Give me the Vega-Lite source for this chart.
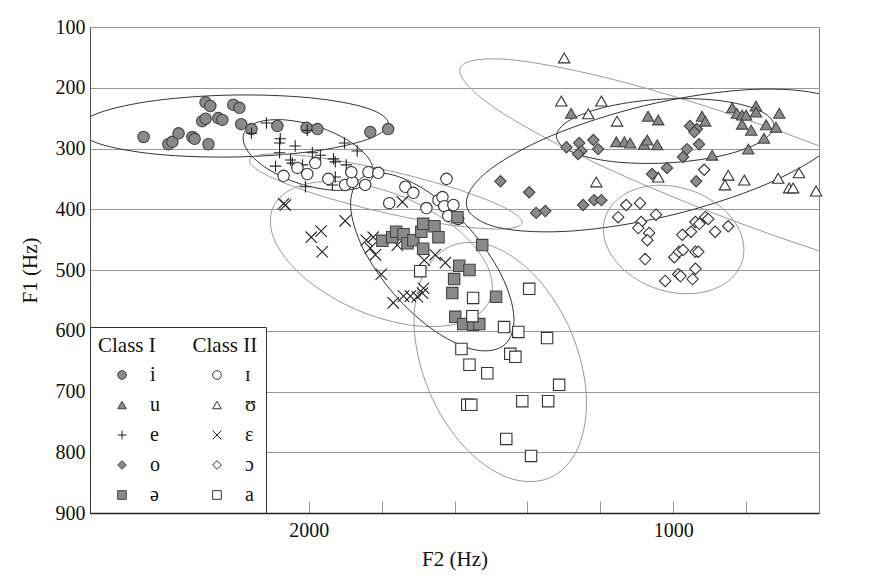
{
  "$schema": "https://vega.github.io/schema/vega-lite/v6.json",
  "width": 729,
  "height": 486,
  "autosize": {"type": "none"},
  "padding": {"left": 90, "top": 27, "right": 76, "bottom": 66},
  "background": "white",
  "config": {
    "view": {"stroke": "#888", "strokeWidth": 1},
    "font": "Liberation Serif",
    "axis": {"labelFont": "Liberation Serif", "titleFont": "Liberation Serif"},
    "legend": {"labelFont": "Liberation Serif", "titleFont": "Liberation Serif"}
  },
  "resolve": {"axis": {"x": "independent"}},
  "datasets": {
    "ell": [
      {"e":"i","c":"I","k":0,"x":1781.5,"y":258.6},{"e":"i","c":"I","k":1,"x":1837.8,"y":284.7},{"e":"i","c":"I","k":2,"x":1992.7,"y":305},{"e":"i","c":"I","k":3,"x":2205,"y":314},{"e":"i","c":"I","k":4,"x":2417.7,"y":309.4},{"e":"i","c":"I","k":5,"x":2573.8,"y":292.3},{"e":"i","c":"I","k":6,"x":2631.5,"y":267.4},{"e":"i","c":"I","k":7,"x":2575.3,"y":241.3},{"e":"i","c":"I","k":8,"x":2420.3,"y":221},{"e":"i","c":"I","k":9,"x":2208,"y":212},{"e":"i","c":"I","k":10,"x":1995.3,"y":216.6},{"e":"i","c":"I","k":11,"x":1839.3,"y":233.7},
      {"e":"e","c":"I","k":0,"x":1823.5,"y":345.3},{"e":"e","c":"I","k":1,"x":1860,"y":364.2},{"e":"e","c":"I","k":2,"x":1934.2,"y":368.6},{"e":"e","c":"I","k":3,"x":2026.3,"y":357.6},{"e":"e","c":"I","k":4,"x":2111.6,"y":334},{"e":"e","c":"I","k":5,"x":2167.2,"y":304.2},{"e":"e","c":"I","k":6,"x":2178.3,"y":276.1},{"e":"e","c":"I","k":7,"x":2141.8,"y":257.2},{"e":"e","c":"I","k":8,"x":2067.6,"y":252.8},{"e":"e","c":"I","k":9,"x":1975.5,"y":263.8},{"e":"e","c":"I","k":10,"x":1890.2,"y":287.4},{"e":"e","c":"I","k":11,"x":1834.6,"y":317.2},
      {"e":"ɪ","c":"II","k":0,"x":1414.4,"y":422.6},{"e":"ɪ","c":"II","k":1,"x":1471,"y":432.6},{"e":"ɪ","c":"II","k":2,"x":1612.6,"y":425.9},{"e":"ɪ","c":"II","k":3,"x":1801.3,"y":404.5},{"e":"ɪ","c":"II","k":4,"x":1986.6,"y":374.1},{"e":"ɪ","c":"II","k":5,"x":2118.8,"y":342.8},{"e":"ɪ","c":"II","k":6,"x":2162.4,"y":319},{"e":"ɪ","c":"II","k":7,"x":2105.8,"y":309},{"e":"ɪ","c":"II","k":8,"x":1964.2,"y":315.7},{"e":"ɪ","c":"II","k":9,"x":1775.5,"y":337.1},{"e":"ɪ","c":"II","k":10,"x":1590.2,"y":367.5},{"e":"ɪ","c":"II","k":11,"x":1458,"y":398.8},
      {"e":"ɛ","c":"II","k":0,"x":1502.9,"y":549.5},{"e":"ɛ","c":"II","k":1,"x":1575.5,"y":585.6},{"e":"ɛ","c":"II","k":2,"x":1708.3,"y":591.7},{"e":"ɛ","c":"II","k":3,"x":1866,"y":566.1},{"e":"ɛ","c":"II","k":4,"x":2006.1,"y":515.7},{"e":"ɛ","c":"II","k":5,"x":2091.3,"y":454.2},{"e":"ɛ","c":"II","k":6,"x":2098.5,"y":397.7},{"e":"ɛ","c":"II","k":7,"x":2025.9,"y":361.6},{"e":"ɛ","c":"II","k":8,"x":1893.1,"y":355.5},{"e":"ɛ","c":"II","k":9,"x":1735.4,"y":381.1},{"e":"ɛ","c":"II","k":10,"x":1595.3,"y":431.5},{"e":"ɛ","c":"II","k":11,"x":1510.1,"y":493},
      {"e":"ə","c":"I","k":0,"x":1461.8,"y":622.8},{"e":"ə","c":"I","k":1,"x":1540.1,"y":631.8},{"e":"ə","c":"I","k":2,"x":1650.6,"y":601.8},{"e":"ə","c":"I","k":3,"x":1764,"y":541.1},{"e":"ə","c":"I","k":4,"x":1849.8,"y":465.8},{"e":"ə","c":"I","k":5,"x":1884.9,"y":396.2},{"e":"ə","c":"I","k":6,"x":1860,"y":350.8},{"e":"ə","c":"I","k":7,"x":1781.7,"y":341.8},{"e":"ə","c":"I","k":8,"x":1671.2,"y":371.8},{"e":"ə","c":"I","k":9,"x":1557.8,"y":432.5},{"e":"ə","c":"I","k":10,"x":1472,"y":507.8},{"e":"ə","c":"I","k":11,"x":1436.9,"y":577.4},
      {"e":"a","c":"II","k":0,"x":1339.5,"y":842.3},{"e":"a","c":"II","k":1,"x":1454.8,"y":841.5},{"e":"a","c":"II","k":2,"x":1575.2,"y":789.8},{"e":"a","c":"II","k":3,"x":1668.8,"y":700.9},{"e":"a","c":"II","k":4,"x":1710.2,"y":598.8},{"e":"a","c":"II","k":5,"x":1688.4,"y":510.9},{"e":"a","c":"II","k":6,"x":1609.3,"y":460.5},{"e":"a","c":"II","k":7,"x":1494,"y":461.3},{"e":"a","c":"II","k":8,"x":1373.6,"y":513},{"e":"a","c":"II","k":9,"x":1280,"y":601.9},{"e":"a","c":"II","k":10,"x":1238.6,"y":704},{"e":"a","c":"II","k":11,"x":1260.4,"y":791.9},
      {"e":"ʊ","c":"II","k":0,"x":-116.3,"y":539.3},{"e":"ʊ","c":"II","k":1,"x":21.1,"y":553.1},{"e":"ʊ","c":"II","k":2,"x":349.4,"y":513.4},{"e":"ʊ","c":"II","k":3,"x":780.9,"y":430.9},{"e":"ʊ","c":"II","k":4,"x":1199.8,"y":327.6},{"e":"ʊ","c":"II","k":5,"x":1493.9,"y":231.3},{"e":"ʊ","c":"II","k":6,"x":1584.3,"y":167.7},{"e":"ʊ","c":"II","k":7,"x":1446.9,"y":153.9},{"e":"ʊ","c":"II","k":8,"x":1118.6,"y":193.6},{"e":"ʊ","c":"II","k":9,"x":687.1,"y":276.1},{"e":"ʊ","c":"II","k":10,"x":268.2,"y":379.4},{"e":"ʊ","c":"II","k":11,"x":-25.9,"y":475.7},
      {"e":"u","c":"I","k":0,"x":723.7,"y":261.8},{"e":"u","c":"I","k":1,"x":761.4,"y":289.4},{"e":"u","c":"I","k":2,"x":868.8,"y":312.1},{"e":"u","c":"I","k":3,"x":1017.4,"y":323.8},{"e":"u","c":"I","k":4,"x":1167.2,"y":321.5},{"e":"u","c":"I","k":5,"x":1278,"y":305.6},{"e":"u","c":"I","k":6,"x":1320.3,"y":280.6},{"e":"u","c":"I","k":7,"x":1282.6,"y":253},{"e":"u","c":"I","k":8,"x":1175.2,"y":230.3},{"e":"u","c":"I","k":9,"x":1026.6,"y":218.6},{"e":"u","c":"I","k":10,"x":876.8,"y":220.9},{"e":"u","c":"I","k":11,"x":766,"y":236.8},
      {"e":"o","c":"I","k":0,"x":518.5,"y":244.1},{"e":"o","c":"I","k":1,"x":570.6,"y":299.3},{"e":"o","c":"I","k":2,"x":749.2,"y":360},{"e":"o","c":"I","k":3,"x":1006.3,"y":409.9},{"e":"o","c":"I","k":4,"x":1273.2,"y":435.6},{"e":"o","c":"I","k":5,"x":1478.2,"y":430.3},{"e":"o","c":"I","k":6,"x":1566.5,"y":395.3},{"e":"o","c":"I","k":7,"x":1514.4,"y":340.1},{"e":"o","c":"I","k":8,"x":1335.8,"y":279.4},{"e":"o","c":"I","k":9,"x":1078.7,"y":229.5},{"e":"o","c":"I","k":10,"x":811.8,"y":203.8},{"e":"o","c":"I","k":11,"x":606.8,"y":209.1},
      {"e":"ɔ","c":"II","k":0,"x":810.9,"y":486.3},{"e":"ɔ","c":"II","k":1,"x":858.2,"y":522.2},{"e":"ɔ","c":"II","k":2,"x":943,"y":538.7},{"e":"ɔ","c":"II","k":3,"x":1042.8,"y":531.3},{"e":"ɔ","c":"II","k":4,"x":1130.8,"y":502.1},{"e":"ɔ","c":"II","k":5,"x":1183.4,"y":459},{"e":"ɔ","c":"II","k":6,"x":1186.5,"y":413.3},{"e":"ɔ","c":"II","k":7,"x":1139.2,"y":377.4},{"e":"ɔ","c":"II","k":8,"x":1054.4,"y":360.9},{"e":"ɔ","c":"II","k":9,"x":954.6,"y":368.3},{"e":"ɔ","c":"II","k":10,"x":866.6,"y":397.5},{"e":"ɔ","c":"II","k":11,"x":814,"y":440.6}
    ],
    "pts": [
      {"v":"i","x":2453,"y":281},{"v":"i","x":2385,"y":293},{"v":"i","x":2374,"y":289},{"v":"i","x":2357,"y":275},{"v":"i","x":2319,"y":281},{"v":"i","x":2313,"y":284},{"v":"i","x":2292,"y":255},{"v":"i","x":2283,"y":251},{"v":"i","x":2283,"y":224},{"v":"i","x":2270,"y":230},{"v":"i","x":2275,"y":293},{"v":"i","x":2248,"y":250},{"v":"i","x":2237,"y":253},{"v":"i","x":2207,"y":228},{"v":"i","x":2190,"y":233},{"v":"i","x":2185,"y":260},{"v":"i","x":2157,"y":268},{"v":"i","x":2086,"y":263},{"v":"i","x":2006,"y":266},{"v":"i","x":1976,"y":268},{"v":"i","x":1831,"y":273},{"v":"i","x":1782,"y":268},
      {"v":"e","x":2157,"y":275},{"v":"e","x":2116,"y":258},{"v":"e","x":2078,"y":284},{"v":"e","x":2080,"y":291},{"v":"e","x":2037,"y":296},{"v":"e","x":2080,"y":307},{"v":"e","x":2050,"y":319},{"v":"e","x":2045,"y":324},{"v":"e","x":2091,"y":329},{"v":"e","x":2004,"y":270},{"v":"e","x":1990,"y":307},{"v":"e","x":1968,"y":311},{"v":"e","x":1932,"y":317},{"v":"e","x":1927,"y":322},{"v":"e","x":1902,"y":291},{"v":"e","x":1867,"y":304},{"v":"e","x":1897,"y":327},{"v":"e","x":1927,"y":347},{"v":"e","x":1935,"y":360},{"v":"e","x":2009,"y":363},{"v":"e","x":2017,"y":327},
      {"v":"ɪ","x":2069,"y":345},{"v":"ɪ","x":2031,"y":332},{"v":"ɪ","x":2004,"y":342},{"v":"ɪ","x":1982,"y":324},{"v":"ɪ","x":1946,"y":350},{"v":"ɪ","x":1900,"y":360},{"v":"ɪ","x":1880,"y":355},{"v":"ɪ","x":1883,"y":339},{"v":"ɪ","x":1836,"y":339},{"v":"ɪ","x":1845,"y":360},{"v":"ɪ","x":1809,"y":340},{"v":"ɪ","x":1779,"y":390},{"v":"ɪ","x":1735,"y":363},{"v":"ɪ","x":1713,"y":373},{"v":"ɪ","x":1677,"y":398},{"v":"ɪ","x":1644,"y":385},{"v":"ɪ","x":1633,"y":380},{"v":"ɪ","x":1622,"y":350},{"v":"ɪ","x":1628,"y":395},{"v":"ɪ","x":1603,"y":393},{"v":"ɪ","x":1617,"y":411},{"v":"ɪ","x":1590,"y":416},
      {"v":"ɛ","x":2069,"y":391},{"v":"ɛ","x":2064,"y":393},{"v":"ɛ","x":1993,"y":446},{"v":"ɛ","x":1966,"y":436},{"v":"ɛ","x":1963,"y":470},{"v":"ɛ","x":1900,"y":419},{"v":"ɛ","x":1823,"y":446},{"v":"ɛ","x":1831,"y":464},{"v":"ɛ","x":1817,"y":475},{"v":"ɛ","x":1801,"y":507},{"v":"ɛ","x":1743,"y":388},{"v":"ɛ","x":1768,"y":554},{"v":"ɛ","x":1740,"y":543},{"v":"ɛ","x":1721,"y":543},{"v":"ɛ","x":1702,"y":544},{"v":"ɛ","x":1688,"y":538},{"v":"ɛ","x":1685,"y":530},{"v":"ɛ","x":1683,"y":484},{"v":"ɛ","x":1653,"y":475},{"v":"ɛ","x":1625,"y":488},{"v":"ɛ","x":1757,"y":459},{"v":"ɛ","x":1842,"y":451},
      {"v":"ə","x":1798,"y":452},{"v":"ə","x":1771,"y":446},{"v":"ə","x":1760,"y":437},{"v":"ə","x":1740,"y":441},{"v":"ə","x":1729,"y":456},{"v":"ə","x":1713,"y":451},{"v":"ə","x":1691,"y":437},{"v":"ə","x":1686,"y":424},{"v":"ə","x":1655,"y":428},{"v":"ə","x":1644,"y":446},{"v":"ə","x":1686,"y":465},{"v":"ə","x":1592,"y":413},{"v":"ə","x":1524,"y":459},{"v":"ə","x":1587,"y":493},{"v":"ə","x":1559,"y":500},{"v":"ə","x":1601,"y":515},{"v":"ə","x":1606,"y":538},{"v":"ə","x":1486,"y":544},{"v":"ə","x":1598,"y":577},{"v":"ə","x":1576,"y":589},{"v":"ə","x":1549,"y":590},{"v":"ə","x":1532,"y":589},
      {"v":"a","x":1694,"y":502},{"v":"a","x":1549,"y":546},{"v":"a","x":1395,"y":531},{"v":"a","x":1551,"y":576},{"v":"a","x":1464,"y":594},{"v":"a","x":1425,"y":602},{"v":"a","x":1346,"y":612},{"v":"a","x":1581,"y":630},{"v":"a","x":1447,"y":638},{"v":"a","x":1433,"y":643},{"v":"a","x":1559,"y":656},{"v":"a","x":1510,"y":670},{"v":"a","x":1313,"y":689},{"v":"a","x":1565,"y":722},{"v":"a","x":1554,"y":722},{"v":"a","x":1414,"y":716},{"v":"a","x":1343,"y":716},{"v":"a","x":1458,"y":778},{"v":"a","x":1390,"y":806},
      {"v":"u","x":1280,"y":242},{"v":"u","x":1069,"y":247},{"v":"u","x":1041,"y":253},{"v":"u","x":921,"y":247},{"v":"u","x":912,"y":255},{"v":"u","x":1156,"y":289},{"v":"u","x":1134,"y":289},{"v":"u","x":1118,"y":291},{"v":"u","x":1080,"y":293},{"v":"u","x":1071,"y":286},{"v":"u","x":1044,"y":294},{"v":"u","x":893,"y":311},{"v":"u","x":838,"y":233},{"v":"u","x":825,"y":242},{"v":"u","x":811,"y":245},{"v":"u","x":800,"y":245},{"v":"u","x":773,"y":230},{"v":"u","x":773,"y":240},{"v":"u","x":709,"y":242},{"v":"u","x":811,"y":260},{"v":"u","x":786,"y":270},{"v":"u","x":745,"y":261},{"v":"u","x":718,"y":265},{"v":"u","x":751,"y":283},{"v":"u","x":794,"y":301},
      {"v":"ʊ","x":1299,"y":151},{"v":"ʊ","x":1307,"y":222},{"v":"ʊ","x":1197,"y":222},{"v":"ʊ","x":1233,"y":243},{"v":"ʊ","x":1154,"y":255},{"v":"ʊ","x":1211,"y":355},{"v":"ʊ","x":1041,"y":347},{"v":"ʊ","x":849,"y":344},{"v":"ʊ","x":858,"y":360},{"v":"ʊ","x":805,"y":352},{"v":"ʊ","x":712,"y":349},{"v":"ʊ","x":655,"y":340},{"v":"ʊ","x":682,"y":365},{"v":"ʊ","x":671,"y":365},{"v":"ʊ","x":608,"y":370},
      {"v":"o","x":1293,"y":298},{"v":"o","x":1258,"y":291},{"v":"o","x":1252,"y":304},{"v":"o","x":1261,"y":309},{"v":"o","x":1219,"y":286},{"v":"o","x":1206,"y":301},{"v":"o","x":954,"y":263},{"v":"o","x":935,"y":268},{"v":"o","x":942,"y":273},{"v":"o","x":962,"y":301},{"v":"o","x":929,"y":293},{"v":"o","x":973,"y":314},{"v":"o","x":1017,"y":332},{"v":"o","x":1058,"y":342},{"v":"o","x":937,"y":354},{"v":"o","x":1474,"y":354},{"v":"o","x":1395,"y":372},{"v":"o","x":1376,"y":406},{"v":"o","x":1351,"y":403},{"v":"o","x":1247,"y":393},{"v":"o","x":1217,"y":385},{"v":"o","x":1197,"y":385},
      {"v":"ɔ","x":1129,"y":393},{"v":"ɔ","x":1091,"y":390},{"v":"ɔ","x":1151,"y":413},{"v":"ɔ","x":1047,"y":409},{"v":"ɔ","x":1088,"y":421},{"v":"ɔ","x":1096,"y":431},{"v":"ɔ","x":1066,"y":439},{"v":"ɔ","x":1071,"y":451},{"v":"ɔ","x":915,"y":335},{"v":"ɔ","x":912,"y":413},{"v":"ɔ","x":904,"y":416},{"v":"ɔ","x":939,"y":421},{"v":"ɔ","x":928,"y":424},{"v":"ɔ","x":951,"y":437},{"v":"ɔ","x":975,"y":442},{"v":"ɔ","x":885,"y":437},{"v":"ɔ","x":849,"y":428},{"v":"ɔ","x":1077,"y":482},{"v":"ɔ","x":997,"y":479},{"v":"ɔ","x":984,"y":470},{"v":"ɔ","x":973,"y":467},{"v":"ɔ","x":939,"y":470},{"v":"ɔ","x":931,"y":470},{"v":"ɔ","x":939,"y":498},{"v":"ɔ","x":986,"y":507},{"v":"ɔ","x":980,"y":510},{"v":"ɔ","x":947,"y":515},{"v":"ɔ","x":1022,"y":518}
    ]
  },
  "layer": [
    {
      "data": {"name": "ell"},
      "mark": {"type": "line", "interpolate": "cardinal-closed", "clip": true, "strokeWidth": 1},
      "encoding": {
        "x": {
          "field": "x", "type": "quantitative",
          "scale": {"domain": [600, 2600], "reverse": true, "nice": false, "zero": false},
          "axis": {
            "orient": "bottom",
            "title": "F2 (Hz)",
            "values": [2000, 1000],
            "format": "d",
            "grid": false,
            "ticks": false,
            "labelPadding": 7,
            "labelFontSize": 20,
            "labelColor": "#111",
            "labelOverlap": false,
            "labelFlush": false,
            "domainColor": "#222",
            "domainWidth": 1.5,
            "titleFontSize": 21,
            "titleFontWeight": "normal",
            "titleColor": "#111",
            "titleY": 35,
            "zindex": 1
          }
        },
        "y": {
          "field": "y", "type": "quantitative",
          "scale": {"domain": [100, 900], "reverse": true, "nice": false, "zero": false},
          "axis": {
            "title": "F1 (Hz)",
            "values": [100, 200, 300, 400, 500, 600, 700, 800, 900],
            "format": "d",
            "grid": true,
            "gridColor": "#999",
            "gridWidth": 1,
            "ticks": false,
            "labelPadding": 5,
            "labelFontSize": 20,
            "labelColor": "#111",
            "domainColor": "#555",
            "titleFontSize": 21,
            "titleFontWeight": "normal",
            "titleColor": "#111",
            "titleX": -50
          }
        },
        "detail": {"field": "e"},
        "order": {"field": "k", "type": "quantitative"},
        "color": {"field": "c", "type": "nominal", "scale": {"domain": ["I", "II"], "range": ["#333333", "#9a9a9a"]}, "legend": null}
      }
    },
    {
      "data": {"name": "pts"},
      "mark": {"type": "point", "opacity": 1, "size": 130, "strokeWidth": 1.1},
      "encoding": {
        "x": {
          "field": "x", "type": "quantitative",
          "axis": {
            "orient": "top",
            "offset": -486,
            "title": null,
            "values": [2400, 2200, 2000, 1800, 1600, 1400, 1200, 1000, 800],
            "labels": false,
            "domain": false,
            "grid": false,
            "ticks": true,
            "tickSize": 12,
            "tickColor": "#999",
            "tickWidth": 1
          }
        },
        "y": {"field": "y", "type": "quantitative"},
        "shape": {
          "field": "v", "type": "nominal",
          "scale": {
            "domain": ["i", "u", "e", "o", "ə", "ɪ", "ʊ", "ɛ", "ɔ", "a"],
            "range": ["circle", "triangle-up", "M-1,0L1,0M0,-1L0,1", "diamond", "square", "circle", "triangle-up", "M-1,-1L1,1M-1,1L1,-1", "diamond", "square"]
          },
          "legend": {
            "title": "Class I\u00a0\u00a0\u00a0\u00a0\u00a0\u00a0\u00a0Class II\u00a0\u00a0",
            "orient": "bottom-left",
            "offset": 0,
            "columns": 2,
            "gridAlign": "all",
            "columnPadding": 32,
            "rowPadding": 10,
            "padding": 8,
            "symbolOffset": 14,
            "labelOffset": 18,
            "symbolSize": 75,
            "symbolStrokeWidth": 1,
            "strokeColor": "#333",
            "fillColor": "white",
            "titleFontSize": 21,
            "titleFontWeight": "normal",
            "titleColor": "#111",
            "titlePadding": 9,
            "titleLimit": 300,
            "labelFontSize": 20,
            "labelColor": "#111"
          }
        },
        "fill": {
          "field": "v", "type": "nominal",
          "scale": {
            "domain": ["i", "u", "e", "o", "ə", "ɪ", "ʊ", "ɛ", "ɔ", "a"],
            "range": ["#8a8a8a", "#8a8a8a", "transparent", "#8a8a8a", "#8a8a8a", "#ffffff", "#ffffff", "transparent", "#ffffff", "#ffffff"]
          },
          "legend": {
            "title": "Class I\u00a0\u00a0\u00a0\u00a0\u00a0\u00a0\u00a0Class II\u00a0\u00a0",
            "orient": "bottom-left",
            "offset": 0,
            "columns": 2
          }
        },
        "stroke": {
          "field": "v", "type": "nominal",
          "scale": {
            "domain": ["i", "u", "e", "o", "ə", "ɪ", "ʊ", "ɛ", "ɔ", "a"],
            "range": ["#444", "#444", "#222", "#444", "#444", "#333", "#333", "#222", "#333", "#333"]
          },
          "legend": {
            "title": "Class I\u00a0\u00a0\u00a0\u00a0\u00a0\u00a0\u00a0Class II\u00a0\u00a0",
            "orient": "bottom-left",
            "offset": 0,
            "columns": 2
          }
        }
      }
    }
  ]
}
